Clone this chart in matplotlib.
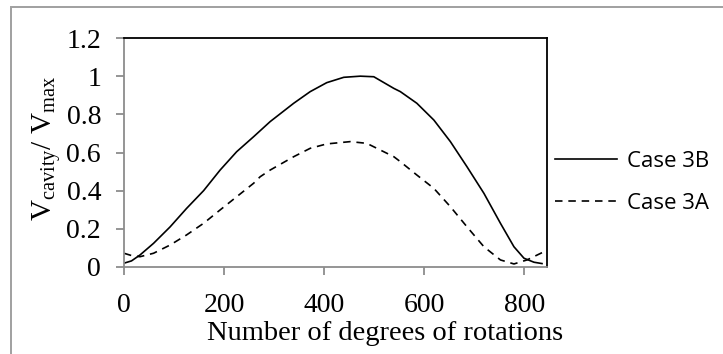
import matplotlib
matplotlib.use('Agg')
from matplotlib import pyplot as plt
from matplotlib.patches import Rectangle
from matplotlib.ticker import FuncFormatter

# Данные
degrees_3b = [0, 15, 32, 59, 92, 125, 159, 192, 225, 259, 292, 339, 372, 405, 439, 472,
              499, 539, 552, 585, 619, 652, 685, 719, 752, 779, 799, 819, 835]
volume_3b = [0.02, 0.032, 0.063, 0.124, 0.21, 0.307, 0.40, 0.508, 0.604, 0.683, 0.762, 0.858,
             0.919, 0.966, 0.994, 1.0, 0.997, 0.936, 0.919, 0.858, 0.770, 0.657, 0.526, 0.386,
             0.229, 0.106, 0.046, 0.025, 0.018]

degrees_3a = [0, 15, 32, 59, 92, 125, 159, 192, 225, 259, 272, 292, 339, 372, 405, 452, 485,
              539, 552, 585, 619, 652, 685, 719, 752, 779, 805, 835]
volume_3a = [0.072, 0.06, 0.054, 0.072, 0.115, 0.168, 0.229, 0.299, 0.368, 0.439, 0.473, 0.508,
             0.578, 0.622, 0.645, 0.657, 0.648, 0.578, 0.552, 0.482, 0.412, 0.316, 0.211, 0.106,
             0.037, 0.016, 0.037, 0.075]

x_ticks = [0, 200, 400, 600, 800]
y_ticks = [0, 0.2, 0.4, 0.6, 0.8, 1.0, 1.2]

plt.rcParams['font.family'] = ['Liberation Serif', 'DejaVu Serif']
plt.rcParams['mathtext.fontset'] = 'custom'
plt.rcParams['mathtext.rm'] = 'Liberation Serif'
plt.rcParams['mathtext.it'] = 'Liberation Serif:italic'

W, H = 723, 354
fig = plt.figure(figsize=(W / 100, H / 100), dpi=100)
ax = fig.add_axes([124 / W, (H - 267) / H, (547 - 124) / W, (267 - 38) / H])

# Рамка вокруг всей картинки (уходит за край справа и снизу)
fig.patches.append(Rectangle((11 / W, -0.5), 1.5, 1.5 - 7 / H, transform=fig.transFigure,
                             fill=False, edgecolor='#a0a0a0', linewidth=1.4))

# Кривые
ax.plot(degrees_3b, volume_3b, c='black', linewidth=1.2, label='Case 3B')
ax.plot(degrees_3a, volume_3a, c='black', linewidth=1.2, dashes=(4.5, 3.5), label='Case 3A')

ax.set_xlim(0, 845)
ax.set_ylim(0, 1.2)
ax.set_xticks(x_ticks)
ax.set_yticks(y_ticks)
ax.yaxis.set_major_formatter(FuncFormatter(lambda v, p: '%g' % round(v, 1)))

# Оси
for side in ['left', 'bottom']:
    ax.spines[side].set_color('#8c8c8c')
    ax.spines[side].set_linewidth(1.3)
for side in ['top', 'right']:
    ax.spines[side].set_color('black')
    ax.spines[side].set_linewidth(1.3)
ax.tick_params(axis='both', direction='out', length=5.5, width=1.3, color='#8c8c8c',
               labelsize=20)
ax.tick_params(axis='y', pad=11)
ax.tick_params(axis='x', pad=13)

ax.set_xlabel('Number of degrees of rotations', fontsize=20.5)
ax.xaxis.set_label_coords(0.617, -0.235)
ax.set_ylabel(r'V$_{\rm cavity}$/ V$_{\rm max}$', fontsize=21)
ax.yaxis.set_label_coords(-0.145, 0.52)

# Легенда справа
ax.legend(loc='center left', bbox_to_anchor=(555 / W, (H - 182.5) / H),
          bbox_transform=fig.transFigure, frameon=False, borderpad=0, borderaxespad=0,
          handlelength=2.8, handletextpad=0.45, labelspacing=0.95,
          prop={'family': 'Open Sans', 'size': 16})

fig.savefig('out.png', dpi=100)
